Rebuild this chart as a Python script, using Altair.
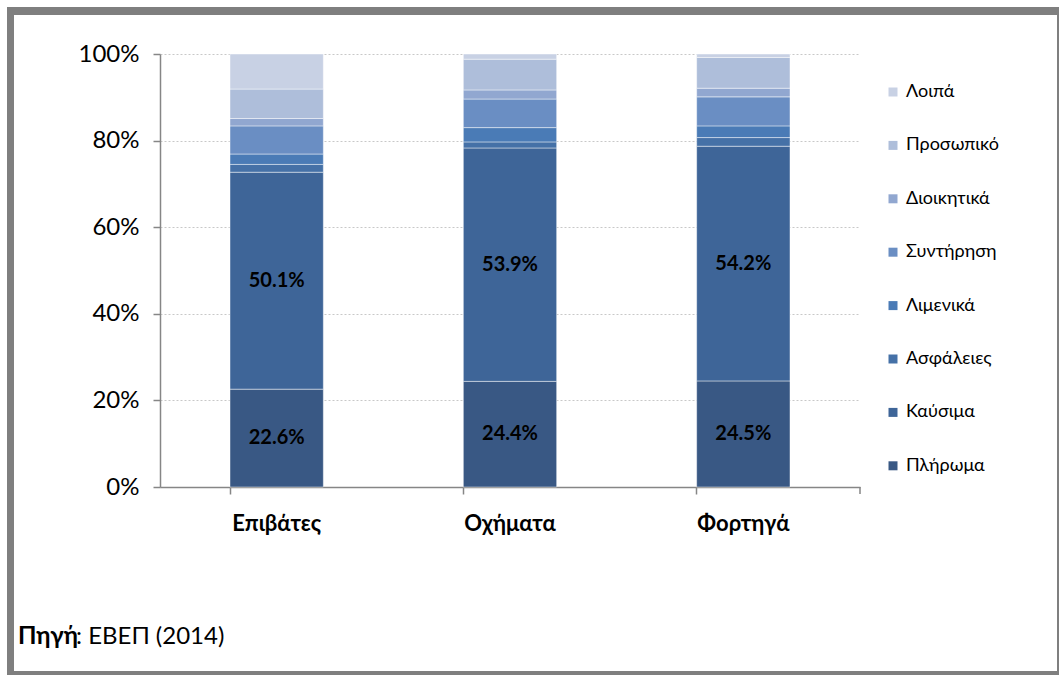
import altair as alt
import pandas as pd

# ---- data ----
categories = ["Επιβάτες", "Οχήματα", "Φορτηγά"]
series = ["Πλήρωμα", "Καύσιμα", "Ασφάλειες", "Λιμενικά", "Συντήρηση", "Διοικητικά", "Προσωπικό", "Λοιπά"]
values_epivates = [22.6, 50.1, 1.8, 2.4, 6.5, 1.7, 6.8, 8.1]
values_ochimata = [24.4, 53.9, 1.4, 3.3, 6.6, 2.1, 7.1, 1.2]
values_fortiga = [24.5, 54.2, 2.0, 2.7, 6.7, 2.0, 7.1, 0.8]
labelled_series = ["Πλήρωμα", "Καύσιμα"]
colors = ["#395884", "#3E6598", "#4571A7", "#4A7BB6", "#6A8EC3", "#91A7D0", "#AEBEDA", "#C8D1E4"]
y_ticks = [0, 20, 40, 60, 80, 100]
source_bold = ["Πηγή"]
source_rest = [": ΕΒΕΠ (2014)"]

rows = []
for cat, vals in zip(categories, [values_epivates, values_ochimata, values_fortiga]):
    for i, (s, v) in enumerate(zip(series, vals)):
        rows.append({"cat": cat, "series": s, "idx": i, "value": v})
df = pd.DataFrame(rows)

W, H = 700, 433
GRAY = "#7f7f7f"

x_enc = alt.X("cat:N", sort=categories, title=None,
              scale=alt.Scale(paddingInner=0.6, paddingOuter=0.3),
              axis=alt.Axis(labelAngle=0, labelFont="Lato", labelFontWeight="bold",
                            labelFontSize=22, labelColor="#000000", labelPadding=19,
                            domainColor="#868686", domainWidth=1.5, tickColor="#868686",
                            tickWidth=1.5, tickSize=7, bandPosition=0, grid=False))

bars = alt.Chart(df).mark_bar(stroke="white", strokeWidth=1, strokeOpacity=0.45).encode(
    x=x_enc,
    y=alt.Y("value:Q", stack="zero", title=None,
            scale=alt.Scale(domain=[0, 100], nice=False),
            axis=alt.Axis(values=y_ticks, labelExpr="datum.value + '%'", labelFont="Lato",
                          labelFontSize=24, labelColor="#000000", labelPadding=14,
                          domainColor="#868686", domainWidth=1.5, tickColor="#868686",
                          tickWidth=1.5, tickSize=7, grid=True, gridColor="#c8c8c8",
                          gridDash=[2, 2], gridWidth=1)),
    color=alt.Color("series:N", title=None,
                    scale=alt.Scale(domain=series[::-1], range=colors[::-1]),
                    legend=alt.Legend(orient="none", legendX=724, legendY=29,
                                      symbolType="square", symbolSize=81,
                                      symbolStrokeWidth=0, labelFont="Lato",
                                      labelFontSize=18, labelColor="#000000",
                                      labelOffset=4, rowPadding=35.4, padding=0)),
    order=alt.Order("idx:Q", sort="ascending"),
)

labels = alt.Chart(df).transform_stack(
    stack="value", groupby=["cat"], sort=[alt.SortField("idx", order="ascending")],
    as_=["y0", "y1"]
).transform_calculate(
    mid="(datum.y0 + datum.y1) / 2",
    lab="format(datum.value, '.1f') + '%'"
).transform_filter(
    alt.FieldOneOfPredicate(field="series", oneOf=labelled_series)
).mark_text(font="Lato", fontWeight="bold", fontSize=20, color="#000000").encode(
    x=alt.X("cat:N", sort=categories),
    y=alt.Y("mid:Q"),
    text="lab:N",
)

one = pd.DataFrame({"d": [0]})
end_tick = alt.Chart(one).mark_rule(color="#868686", strokeWidth=1.5).encode(
    x=alt.value(W), y=alt.value(H), y2=alt.value(H + 7))

def strip(x1, x2, y1, y2):
    return alt.Chart(one).mark_rect(color=GRAY).encode(
        x=alt.value(x1), x2=alt.value(x2), y=alt.value(y1), y2=alt.value(y2))

frame = [strip(-153, -146, -47, 621), strip(-153, 899, -47, -39),
         strip(897, 899, -47, 621), strip(-153, 899, 617, 621)]

src1 = alt.Chart(pd.DataFrame({"t": source_bold})).mark_text(
    font="Lato", fontWeight="bold", fontSize=24, align="left", baseline="middle",
    color="#000000").encode(x=alt.value(-142), y=alt.value(583), text="t:N")
src2 = alt.Chart(pd.DataFrame({"t": source_rest})).mark_text(
    font="Lato", fontSize=24, align="left", baseline="middle",
    color="#000000").encode(x=alt.value(-84), y=alt.value(583), text="t:N")

chart = alt.layer(bars, labels, end_tick, *frame, src1, src2).properties(
    width=W, height=H,
    autosize=alt.AutoSizeParams(type="none"),
    padding={"left": 160, "top": 54, "right": 199, "bottom": 188},
    background="white",
).configure_view(stroke=None)

chart.save("out.html", embed_options={"renderer": "svg", "actions": False})
